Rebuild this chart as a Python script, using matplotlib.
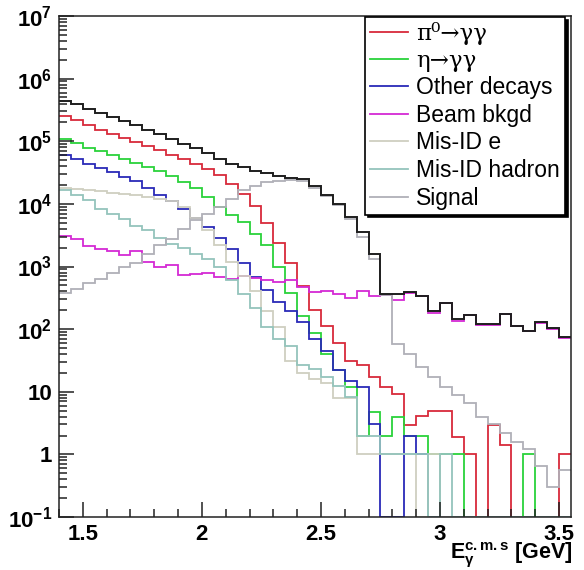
import numpy as np
import matplotlib
matplotlib.use("Agg")
import matplotlib.pyplot as plt
from matplotlib.ticker import MultipleLocator, LogLocator, NullFormatter

plt.rcParams['font.family'] = ['Liberation Sans', 'DejaVu Sans']
plt.rcParams['mathtext.fontset'] = 'custom'
plt.rcParams['mathtext.rm'] = 'Liberation Sans'
plt.rcParams['mathtext.bf'] = 'Liberation Sans:bold'
plt.rcParams['mathtext.it'] = 'Liberation Sans:italic'

# 43 bins of 50 MeV from 1.40 to 3.55 GeV
edges = np.round(1.4 + 0.05 * np.arange(44), 2)

total = [4.4e5, 3.9e5, 3.3e5, 2.8e5, 2.45e5, 2.1e5, 1.8e5, 1.54e5, 1.31e5, 1.1e5,
         9.1e4, 7.8e4, 6.5e4, 5.2e4, 4.4e4, 3.9e4, 3.4e4, 3.1e4, 2.8e4, 2.6e4,
         2.5e4, 1.9e4, 1.4e4, 1.0e4, 6.2e3, 3.5e3, 1.6e3, 366, 366, 398,
         335, 193, 262, 146, 169, 121, 121, 177, 114, 95,
         128, 103, 75]
pi0 = [2.5e5, 2.2e5, 1.8e5, 1.54e5, 1.31e5, 1.13e5, 9.8e4, 8.3e4, 7.2e4, 6.1e4,
       5.2e4, 4.4e4, 3.6e4, 2.9e4, 2.1e4, 1.42e4, 9.2e3, 5.0e3, 2.4e3, 1.15e3,
       480, 203, 114, 61, 31, 27, 17, 11.7, 9.2, 2.9,
       4.1, 5.0, 5.0, 1.9, 1.0, 0, 2.9, 1.4, 0, 0,
       0, 0, 1.0]
eta = [1.08e5, 9.4e4, 7.9e4, 6.9e4, 6.0e4, 5.2e4, 4.5e4, 3.9e4, 3.3e4, 2.8e4,
       2.2e4, 1.8e4, 1.28e4, 8.9e3, 6.6e3, 5.1e3, 3.3e3, 2.2e3, 1.0e3, 380,
       164, 86, 40, 22, 12, 2.0, 4.7, 2.0, 4.0, 2.0,
       2.0, 1.0, 1.0, 1.0, 0, 0, 0, 0, 0, 1.0,
       0, 0, 0]
other = [6.1e4, 5.2e4, 4.4e4, 3.8e4, 3.2e4, 2.7e4, 2.3e4, 1.8e4, 1.4e4, 1.1e4,
         8.2e3, 6.0e3, 4.2e3, 2.9e3, 1.9e3, 1.15e3, 692, 424, 268, 198,
         128, 70, 45, 22, 15, 12, 3.0, 0, 0, 2.0,
         1.0, 0, 0, 0, 0, 0, 0, 0, 0, 0,
         0, 0, 0]
beam = [3100, 2700, 2100, 1920, 1800, 1540, 1740, 1200, 1000, 1050,
        740, 770, 780, 690, 640, 718, 660, 612, 561, 612,
        467, 388, 403, 366, 311, 403, 343, 350, 297, 380,
        335, 181, 262, 137, 169, 118, 118, 172, 111, 93,
        125, 100, 73]
misid_e = [1.8e4, 1.72e4, 1.65e4, 1.58e4, 1.5e4, 1.45e4, 1.38e4, 1.3e4, 1.2e4, 1.1e4,
           9.0e3, 6.0e3, 3.8e3, 2.2e3, 1.2e3, 700, 413, 198, 110, 31,
           20, 16, 14, 8, 8, 1, 1, 1, 1, 1,
           0, 1, 0, 0, 0, 0, 0, 0, 0, 0,
           0, 0, 0]
misid_h = [1.64e4, 1.37e4, 1.14e4, 8.4e3, 7.0e3, 5.8e3, 4.5e3, 3.8e3, 2.9e3, 2.3e3,
           2.0e3, 1.6e3, 1.3e3, 1.0e3, 600, 370, 215, 110, 70, 54,
           27, 23, 17, 12.5, 8.1, 2, 2, 1, 1, 1,
           1, 0, 1, 0, 0, 0, 0, 0, 0, 0,
           0, 0, 0]
signal = [380, 440, 540, 635, 780, 1000, 1150, 1600, 2200, 2700,
          4000, 5600, 7000, 8900, 1.2e4, 1.64e4, 1.95e4, 2.2e4, 2.35e4, 2.4e4,
          2.3e4, 1.8e4, 1.35e4, 9.5e3, 5.7e3, 3.0e3, 1.3e3, 350, 58, 40,
          25, 17, 12, 9, 6.5, 4, 3, 2.2, 1.6, 1.2,
          0.65, 0.3, 0.56]

series = [
    (pi0, '#d82a3a', 'π⁰→γγ'),
    (eta, '#2ad23a', 'η→γγ'),
    (other, '#2a2ab8', 'Other decays'),
    (beam, '#d42ad4', 'Beam bkgd'),
    (misid_e, '#cfcfc0', 'Mis-ID e'),
    (misid_h, '#94c4bc', 'Mis-ID hadron'),
    (signal, '#b0b0b8', 'Signal'),
]

fig = plt.figure(figsize=(5.84, 5.70), dpi=100)
ax = fig.add_axes([59 / 584, 1 - 517 / 570, 512 / 584, 501 / 570])

def floor(v):
    # empty bins sit on the frame, like ROOT draws them
    v = np.asarray(v, dtype=float)
    return np.where(v > 0, v, 0.1)

for vals, col, lab in series:
    ax.stairs(floor(vals), edges, baseline=None, color=col, lw=1.3, label=lab)
ax.stairs(floor(total), edges, baseline=None, color='#1e1e1e', lw=1.4)

ax.set_yscale('log')
ax.set_xlim(1.4, 3.55)
ax.set_ylim(0.1, 1e7)

ax.set_xticks([1.5, 2, 2.5, 3, 3.5], ['1.5', '2', '2.5', '3', '3.5'])
ax.xaxis.set_minor_locator(MultipleLocator(0.1))
yt = [0.1, 1, 10, 1e2, 1e3, 1e4, 1e5, 1e6, 1e7]
ylabs = [r'$\mathbf{10^{-1}}$', '1', '10'] + [r'$\mathbf{10^{%d}}$' % e for e in range(2, 8)]
ax.set_yticks(yt, ylabs)
ax.yaxis.set_minor_locator(LogLocator(base=10, subs=np.arange(2, 10), numticks=20))
ax.yaxis.set_minor_formatter(NullFormatter())

ax.tick_params(which='both', direction='in', top=False, right=False, width=1.1, colors='#222222')
ax.tick_params(which='major', length=11, labelsize=16, pad=5)
ax.tick_params(which='minor', length=5.5)
for t in ax.get_xticklabels() + ax.get_yticklabels():
    t.set_fontweight('bold')
    t.set_color('black')
for s in ax.spines.values():
    s.set_linewidth(1.1)
    s.set_color('#222222')

leg = ax.legend(loc='upper right', bbox_to_anchor=(0.988, 0.998), fontsize=16.5,
                frameon=True, fancybox=False, edgecolor='black', framealpha=1,
                shadow={'color': 'black', 'alpha': 1}, handlelength=1.65,
                handletextpad=0.36, labelspacing=0.2, borderpad=0.22, borderaxespad=0)
leg.get_frame().set_linewidth(1.2)
for t in leg.get_texts()[:2]:
    t.set_fontfamily(['DejaVu Serif', 'Liberation Serif'])

fig.text(573 / 584, 1 - 555 / 570, r'$\mathbf{E_{\gamma}^{c.m.s}}$ [GeV]',
         ha='right', va='center', fontsize=15.5, fontweight='bold')

fig.savefig('out.png', dpi=100)
